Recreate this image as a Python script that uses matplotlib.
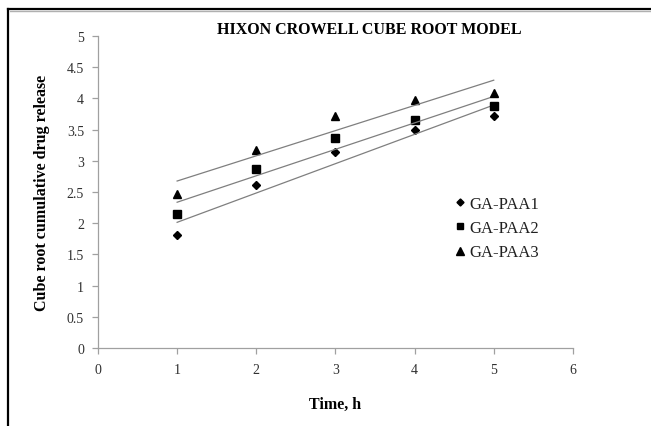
import numpy as np
import matplotlib
matplotlib.use("Agg")
import matplotlib.pyplot as plt
from matplotlib.lines import Line2D

plt.rcParams['font.family'] = ['Liberation Serif', 'DejaVu Serif']

# data
time_h = [1, 2, 3, 4, 5]
ga_paa1 = [1.81, 2.61, 3.14, 3.49, 3.72]
ga_paa2 = [2.15, 2.87, 3.37, 3.65, 3.88]
ga_paa3 = [2.47, 3.17, 3.72, 3.97, 4.09]
series_names = ['GA-PAA1', 'GA-PAA2', 'GA-PAA3']
markers = ['D', 's', '^']
marker_sizes = [4.2, 5.6, 6.2]

fig = plt.figure(figsize=(6.51, 4.27), dpi=100)
ax = fig.add_axes([0.1505, 0.1827, 0.7295, 0.7306])

x = np.array(time_h)
for name, ys, m, ms in zip(series_names, [ga_paa1, ga_paa2, ga_paa3], markers, marker_sizes):
    ax.plot(x, ys, linestyle='none', marker=m, markersize=ms, color='black', label=name)
    # linear trend line
    k, b = np.polyfit(x, ys, 1)
    ax.plot(x, k * x + b, color='#7f7f7f', linewidth=0.9)

ax.set_xlim(0, 6)
ax.set_ylim(0, 5)
ax.set_xticks(range(0, 7))
ax.set_yticks(np.arange(0, 5.01, 0.5))
ax.set_yticklabels(['0', '0.5', '1', '1.5', '2', '2.5', '3', '3.5', '4', '4.5', '5'])

for side in ['top', 'right']:
    ax.spines[side].set_visible(False)
for side in ['left', 'bottom']:
    ax.spines[side].set_color('#a0a0a0')
    ax.spines[side].set_linewidth(0.9)
ax.tick_params(axis='both', colors='#a0a0a0', labelcolor='#303030', labelsize=10, length=4, width=0.9)
ax.tick_params(axis='x', pad=7)
ax.tick_params(axis='y', pad=6)

ax.set_xlabel('Time, h', fontsize=11.5, fontweight='bold', labelpad=14)
ax.set_ylabel('Cube root cumulative drug release', fontsize=11.5, fontweight='bold', labelpad=12)
fig.text(0.568, 1 - 34 / 427, 'HIXON CROWELL CUBE ROOT MODEL', ha='center', va='baseline',
         fontsize=11.5, fontweight='bold')

handles = [Line2D([], [], linestyle='none', marker=m, markersize=ms * 0.85, color='black')
           for m, ms in zip(markers, marker_sizes)]
ax.legend(handles, series_names, loc='upper left', bbox_to_anchor=(0.72, 0.536),
          frameon=False, fontsize=12, handlelength=0.6, handletextpad=0.25,
          labelspacing=0.5, labelcolor='#202020')

# outer frame (top and left edges with shadow)
fig.add_artist(Line2D([0.013, 1.0], [0.977, 0.977], color='black', linewidth=1.6))
fig.add_artist(Line2D([0.013, 0.013], [0.0, 0.977], color='black', linewidth=1.6))
fig.add_artist(Line2D([0.015, 1.0], [0.972, 0.972], color='#b0b0b0', linewidth=1.0))

fig.savefig('out.png', dpi=100)
